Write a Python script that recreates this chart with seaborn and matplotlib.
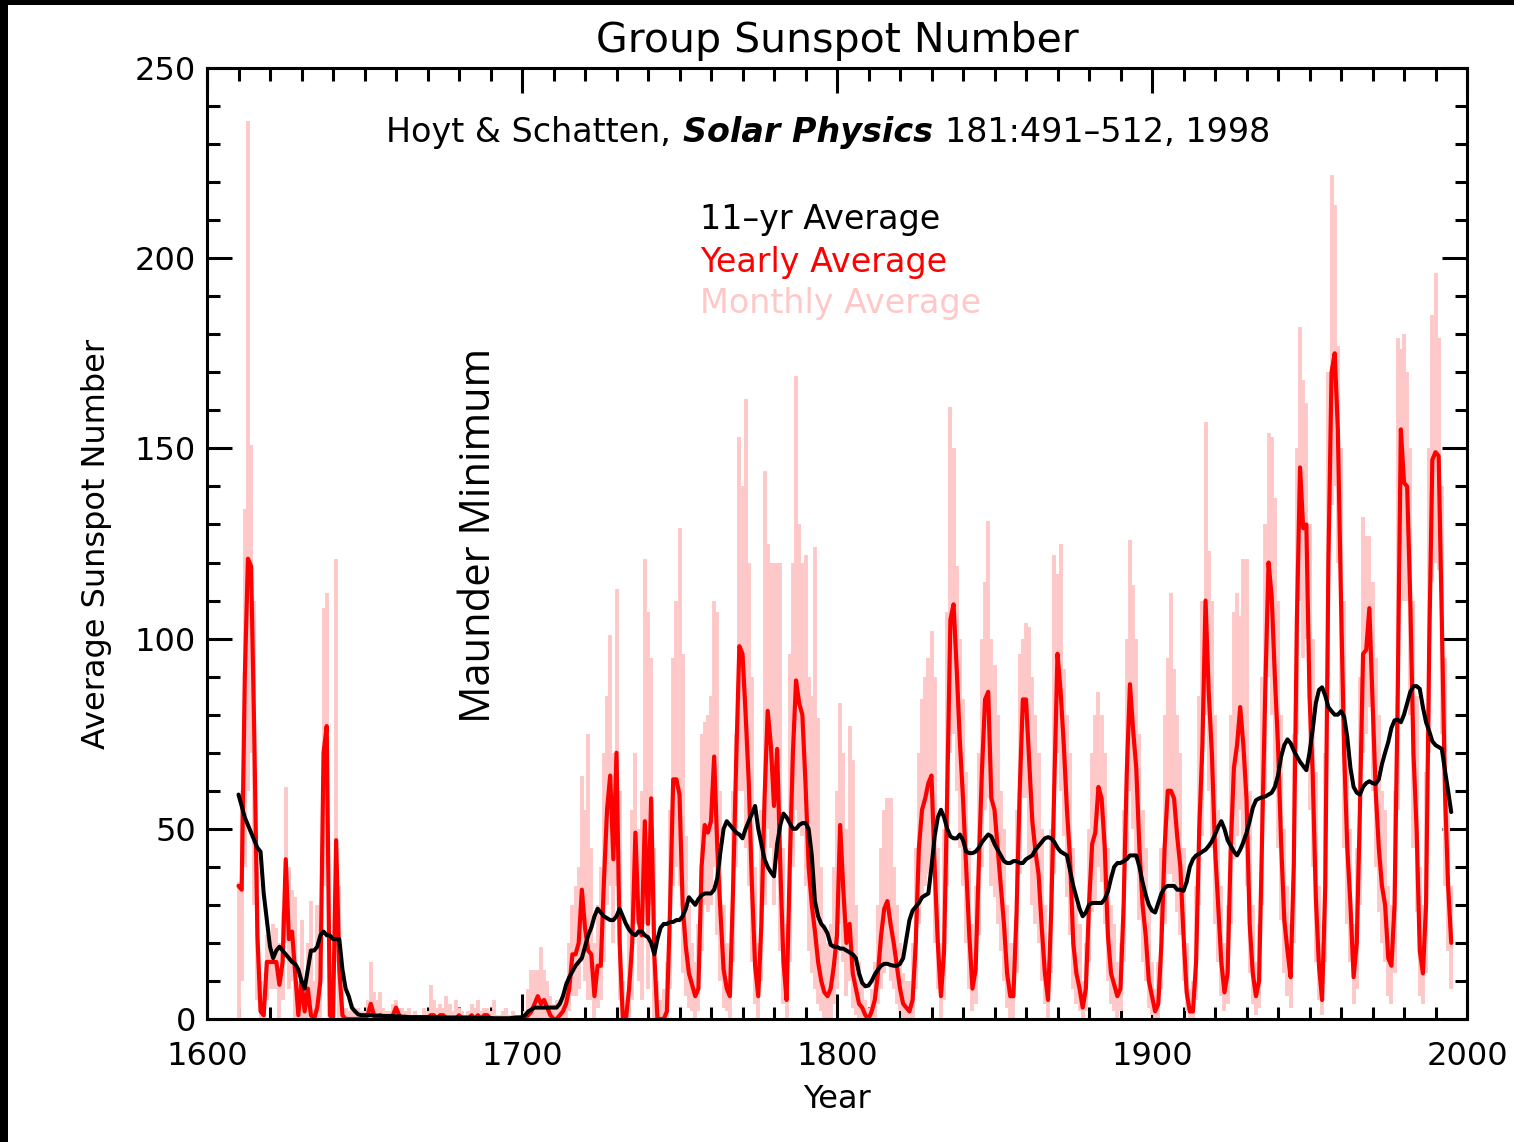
import numpy as np
import pandas as pd
import matplotlib
matplotlib.use("Agg")
import matplotlib.pyplot as plt
from matplotlib.patches import Rectangle
from matplotlib.ticker import MultipleLocator
from matplotlib.offsetbox import TextArea, HPacker, AnnotationBbox
import seaborn as sns

# ---------------------------------------------------------------------------
# Group sunspot number (Hoyt & Schatten 1998), one value per year from 1610
# ---------------------------------------------------------------------------
YEAR_START = 1610

yearly_avg = [
    35, 34, 90, 121, 119, 75, 22, 2, 1, 15,          # 1610s
    15, 15, 15, 9, 15, 42, 21, 23, 12, 1,            # 1620s
    10, 2, 8, 1, 0, 3, 10, 70, 77, 1,                # 1630s
    0, 47, 13, 1, 0, 0, 0, 0, 0, 0,                  # 1640s
    0, 1, 4, 1, 0, 1, 0, 0, 0, 1,                    # 1650s
    3, 1, 0, 0, 0, 0, 0, 0, 0, 0,                    # 1660s
    0, 1, 1, 0, 1, 1, 0, 0, 0, 0,                    # 1670s
    1, 0, 0, 0, 1, 0, 1, 0, 1, 1,                    # 1680s
    0, 0, 0, 0, 0, 0, 0, 0, 0, 0,                    # 1690s
    0, 0, 1, 2, 4, 6, 4, 5, 3, 1,                    # 1700s
    0, 0, 1, 2, 4, 8, 17, 17, 20, 34,                # 1710s
    24, 18, 17, 6, 14, 14, 36, 55, 64, 42,           # 1720s
    70, 20, 0, 0, 8, 20, 49, 26, 22, 52,             # 1730s
    25, 58, 17, 0, 0, 0, 2, 29, 63, 63,              # 1740s
    59, 30, 19, 12, 9, 6, 8, 40, 51, 49,             # 1750s
    52, 69, 45, 28, 13, 8, 6, 34, 68, 98,            # 1760s
    96, 80, 62, 35, 14, 6, 25, 58, 81, 72,           # 1770s
    56, 71, 40, 15, 5, 40, 70, 89, 83, 80,           # 1780s
    62, 40, 30, 23, 15, 10, 7, 6, 8, 14,             # 1790s
    22, 51, 34, 20, 25, 12, 8, 4, 3, 1,              # 1800s
    0, 2, 5, 12, 22, 29, 31, 25, 20, 14,             # 1810s
    8, 4, 3, 2, 5, 20, 45, 55, 58, 62,               # 1820s
    64, 40, 20, 6, 18, 60, 105, 109, 92, 73,         # 1830s
    58, 40, 22, 8, 13, 40, 65, 84, 86, 58,           # 1840s
    55, 45, 35, 25, 12, 6, 6, 28, 60, 84,            # 1850s
    84, 68, 52, 44, 38, 24, 12, 5, 28, 62,           # 1860s
    96, 86, 72, 55, 42, 20, 12, 8, 3, 8,             # 1870s
    30, 46, 49, 61, 58, 45, 22, 12, 9, 6,            # 1880s
    8, 30, 65, 88, 76, 66, 45, 30, 22, 10,           # 1890s
    6, 2, 4, 20, 45, 60, 60, 58, 48, 40,             # 1900s
    22, 7, 2, 2, 15, 50, 72, 110, 86, 70,            # 1910s
    45, 30, 15, 7, 12, 45, 66, 72, 82, 72,           # 1920s
    58, 25, 12, 6, 10, 50, 88, 120, 111, 90,         # 1930s
    72, 46, 26, 18, 11, 40, 105, 145, 129, 130,      # 1940s
    85, 65, 32, 14, 5, 35, 120, 170, 175, 155,       # 1950s
    110, 70, 45, 30, 11, 20, 55, 96, 97, 108,        # 1960s
    84, 60, 45, 35, 30, 16, 14, 30, 85, 155,         # 1970s
    141, 140, 110, 70, 50, 18, 12, 30, 98, 147,      # 1980s
    149, 148, 105, 60, 35, 20,                       # 1990s
]

eleven_yr_avg = [
    59, 56, 53, 51, 49, 47, 45, 44, 33, 26,
    19, 16, 18, 19, 18, 17, 16, 15, 14.5, 13,
    10, 8, 13, 18, 18, 19, 22, 23, 22, 22,
    21, 21, 21, 13, 8, 6, 3, 2, 1.2, 1,
    1, 1, 1, 0.9, 0.9, 0.9, 0.8, 0.8, 0.8, 0.8,
    0.7, 0.7, 0.6, 0.6, 0.5, 0.5, 0.5, 0.5, 0.5, 0.5,
    0.5, 0.5, 0.5, 0.4, 0.4, 0.4, 0.4, 0.4, 0.4, 0.4,
    0.4, 0.4, 0.4, 0.4, 0.4, 0.3, 0.3, 0.3, 0.3, 0.3,
    0.3, 0.2, 0.2, 0.2, 0.2, 0.2, 0.2, 0.3, 0.4, 0.4,
    0.5, 1, 2, 2.5, 3, 3, 3, 3, 3, 3,
    3, 3, 4, 6, 9, 11, 12.5, 14, 15, 16,
    19, 22, 24, 27, 29, 28, 27, 26.5, 26, 26,
    27, 29, 27, 25, 23.5, 22.5, 22, 23, 23, 22,
    21.5, 20, 17, 21, 24, 25, 25, 25.5, 25.5, 26,
    26, 27, 29, 32, 31, 30, 31.5, 32.5, 33, 33,
    33, 34, 37, 44, 50, 52, 51, 50, 49, 48.5,
    47.5, 50, 52, 54, 56, 50, 46, 42, 40, 38.6,
    37.5, 46, 51, 54, 53, 51.5, 50, 50, 51, 51.5,
    51.5, 50, 43, 31, 27, 25, 24, 22.5, 19.5, 19,
    19, 18.5, 18.5, 18, 17.5, 17, 16, 12, 9.5, 8.6,
    8.8, 10, 11.7, 13, 14, 14.5, 14.5, 14.2, 14, 14,
    14.5, 16, 21, 26, 28.5, 29.5, 30.5, 32, 32.5, 33,
    40, 48, 53, 55, 53, 50, 48, 47.5, 47.5, 48.5,
    47, 44, 43.6, 43.6, 44, 45, 46.5, 47.5, 48.5, 48,
    46, 44.5, 43, 41.5, 41, 41, 41.5, 41.5, 41, 41,
    42, 42.5, 43, 44.5, 45.5, 46.5, 47.5, 47.8, 47.5, 46.5,
    45, 44, 43.5, 43, 39, 35, 32, 29, 27, 28,
    30, 30.5, 30.5, 30.5, 30.5, 31.5, 33.5, 37, 40, 41,
    41, 41.5, 42, 43, 43, 43, 40, 36, 32.6, 30,
    28.5, 28, 30.5, 33, 34.5, 35, 35, 35, 34, 34,
    33.7, 36, 40, 42, 43, 43.4, 44, 44.5, 45.5, 46.7,
    48.5, 50.5, 52, 50, 47, 45.5, 44, 43, 44.5, 46.5,
    48.9, 52, 55.5, 57.5, 58, 58.3, 58.5, 59, 59.5, 61,
    64, 69, 72, 73.5, 72.5, 70.6, 69, 67.6, 66.5, 65.4,
    70, 76, 83, 86.5, 87.2, 85, 82, 80.9, 80, 80,
    80.9, 79.5, 74, 66, 61, 59.5, 59, 61, 62, 62.5,
    62, 61.8, 63, 67, 70, 72.8, 76.5, 78.5, 78.7, 78,
    80, 83, 86, 87.5, 87.5, 86.8, 82, 78, 75.7, 73,
    72, 71.5, 71, 65.4, 60, 54.4,
]

# highest and lowest monthly mean within each year
monthly_high = [
    36, 60, 134, 236, 151, 110, 40, 10, 5, 22,
    20, 25, 24, 20, 28, 61, 40, 34, 32, 10,
    26, 10, 20, 31, 10, 30, 25, 108, 112, 10,
    5, 121, 35, 8, 3, 2, 4, 2, 3, 2,
    2, 5, 15, 7, 5, 7, 3, 2, 2, 4,
    5, 3, 3, 2, 3, 1, 2, 1, 1, 3,
    2, 9, 5, 3, 4, 3, 6, 4, 2, 5,
    3, 2, 1, 2, 4, 3, 5, 2, 3, 3,
    2, 5, 1, 1, 2, 3, 1, 2, 1, 1,
    1, 2, 8, 13, 13, 13, 19, 13, 10, 6,
    4, 5, 4, 6, 10, 20, 30, 35, 40, 64,
    55, 75, 45, 20, 30, 40, 70, 85, 101, 70,
    113, 60, 10, 5, 25, 55, 70, 50, 60, 121,
    107, 95, 45, 10, 5, 8, 15, 55, 95, 110,
    129, 96, 48, 30, 20, 15, 25, 75, 78, 80,
    85, 110, 107, 60, 30, 20, 15, 60, 75, 153,
    140, 163, 120, 90, 40, 20, 55, 144, 125, 120,
    120, 120, 120, 45, 25, 96, 120, 169, 130, 120,
    122, 90, 85, 124, 79, 40, 25, 20, 25, 40,
    60, 83, 70, 50, 77, 68, 30, 15, 10, 5,
    3, 8, 15, 30, 45, 55, 58, 58, 40, 30,
    20, 12, 10, 10, 20, 45, 70, 84, 90, 95,
    102, 90, 45, 20, 50, 107, 161, 150, 119, 100,
    84, 65, 45, 25, 35, 70, 100, 115, 131, 100,
    93, 80, 60, 50, 30, 20, 20, 55, 96, 100,
    104, 103, 90, 80, 70, 50, 30, 15, 50, 122,
    117, 125, 92, 80, 70, 45, 30, 25, 10, 20,
    50, 70, 80, 86, 80, 70, 45, 30, 25, 15,
    20, 55, 100, 126, 114, 100, 75, 55, 45, 30,
    15, 8, 15, 45, 80, 95, 112, 92, 80, 70,
    45, 20, 8, 10, 35, 85, 110, 157, 123, 110,
    80, 55, 35, 20, 30, 80, 107, 112, 106, 121,
    121, 60, 30, 15, 25, 90, 130, 154, 153, 137,
    110, 80, 50, 35, 25, 75, 150, 182, 168, 162,
    130, 100, 65, 35, 20, 70, 170, 222, 214, 177,
    150, 110, 75, 50, 25, 45, 90, 132, 127, 127,
    115, 95, 80, 60, 55, 35, 30, 60, 179, 176,
    180, 170, 150, 110, 85, 40, 30, 65, 150, 185,
    196, 179, 140, 95, 60, 35,
]

monthly_low = [
    0, 10, 40, 60, 70, 30, 5, 0, 0, 5,
    8, 8, 8, 0, 5, 20, 8, 10, 0, 0,
    0, 0, 0, 0, 0, 0, 0, 35, 40, 0,
    0, 15, 0, 0, 0, 0, 0, 0, 0, 0,
    0, 0, 0, 0, 0, 0, 0, 0, 0, 0,
    0, 0, 0, 0, 0, 0, 0, 0, 0, 0,
    0, 0, 0, 0, 0, 0, 0, 0, 0, 0,
    0, 0, 0, 0, 0, 0, 0, 0, 0, 0,
    0, 0, 0, 0, 0, 0, 0, 0, 0, 0,
    0, 0, 0, 0, 0, 0, 0, 0, 0, 0,
    0, 0, 0, 0, 0, 2, 6, 6, 8, 15,
    10, 5, 5, 0, 3, 5, 15, 30, 35, 20,
    35, 5, 0, 0, 0, 5, 25, 10, 5, 25,
    8, 30, 0, 0, 0, 0, 0, 8, 35, 40,
    35, 12, 6, 3, 2, 0, 2, 18, 30, 28,
    30, 40, 22, 10, 3, 2, 0, 15, 40, 60,
    60, 45, 35, 15, 4, 0, 10, 30, 50, 45,
    30, 42, 18, 4, 0, 15, 40, 55, 50, 48,
    35, 18, 12, 8, 4, 2, 0, 0, 0, 4,
    8, 25, 15, 6, 10, 3, 1, 0, 0, 0,
    0, 0, 0, 4, 8, 12, 14, 10, 8, 4,
    2, 0, 0, 0, 0, 8, 25, 32, 35, 38,
    38, 20, 8, 0, 5, 35, 70, 75, 60, 45,
    35, 20, 8, 2, 4, 22, 40, 55, 58, 35,
    32, 25, 18, 10, 3, 0, 0, 12, 38, 58,
    58, 42, 30, 25, 20, 10, 4, 0, 12, 38,
    70, 60, 48, 32, 22, 8, 4, 2, 0, 2,
    15, 28, 30, 40, 36, 25, 10, 4, 2, 0,
    2, 15, 42, 60, 50, 42, 26, 15, 10, 3,
    1, 0, 0, 8, 25, 38, 38, 36, 28, 22,
    10, 2, 0, 0, 5, 30, 48, 80, 60, 45,
    25, 15, 6, 2, 4, 25, 42, 48, 55, 45,
    35, 12, 4, 1, 3, 30, 60, 90, 80, 60,
    45, 26, 12, 6, 3, 20, 75, 110, 95, 100,
    55, 40, 15, 5, 1, 15, 90, 135, 140, 120,
    80, 45, 25, 15, 4, 8, 30, 70, 75, 82,
    60, 40, 28, 20, 15, 6, 4, 12, 55, 125,
    110, 110, 80, 45, 28, 6, 4, 12, 70, 115,
    120, 118, 75, 35, 18, 8,
]

years = np.arange(YEAR_START, YEAR_START + len(yearly_avg))

RED = "#ff0000"
PINK = "#ffc8c8"

sns.set_style("ticks")
plt.rcParams["font.family"] = ["DejaVu Sans"]
plt.rcParams["text.color"] = "black"
plt.rcParams["axes.labelcolor"] = "black"

fig = plt.figure(figsize=(15.14, 11.42), dpi=100, facecolor="black")
# white page inside the dark frame, kept behind the axes
fig.patches.append(Rectangle((8 / 1514, 0), 1, 1137 / 1142, transform=fig.transFigure,
                             facecolor="white", edgecolor="none", zorder=-10))

ax = fig.add_axes([207 / 1514, 1 - 1019 / 1142, 1260 / 1514, 951 / 1142])
ax.set_zorder(1)
ax.set_facecolor("white")

df = pd.DataFrame({
    "Year": years,
    "Yearly": yearly_avg,
    "Eleven": eleven_yr_avg,
    "MonthHigh": monthly_high,
    "MonthLow": monthly_low,
})

# monthly spread, yearly mean and 11-year running mean
ax.vlines(df["Year"], df["MonthLow"], df["MonthHigh"], colors=PINK, lw=2.8, zorder=1)
sns.lineplot(data=df, x="Year", y="Yearly", color=RED, lw=3.0, ax=ax, zorder=2, estimator=None)
sns.lineplot(data=df, x="Year", y="Eleven", color="black", lw=2.9, ax=ax, zorder=3, estimator=None)

ax.set_xlim(1600, 2000)
ax.set_ylim(0, 250)

ax.xaxis.set_major_locator(MultipleLocator(100))
ax.xaxis.set_minor_locator(MultipleLocator(10))
ax.yaxis.set_major_locator(MultipleLocator(50))
ax.yaxis.set_minor_locator(MultipleLocator(10))
ax.tick_params(which="both", direction="in", top=True, right=True, width=2.2,
               color="black", labelcolor="black")
ax.tick_params(which="major", length=18, labelsize=23)
ax.tick_params(which="minor", length=9)
ax.tick_params(axis="x", which="major", pad=16)
ax.tick_params(axis="y", which="major", pad=8)
for sp in ax.spines.values():
    sp.set_linewidth(2.2)
    sp.set_color("black")
    sp.set_zorder(5)

ax.set_xlabel("Year", fontsize=23, color="black")
ax.set_ylabel("Average Sunspot Number", fontsize=23, color="black")
ax.xaxis.set_label_coords(0.5, -0.068)
ax.yaxis.set_label_coords(-0.0754, 0.5)
ax.set_title("Group Sunspot Number", fontsize=29.5, y=1.0168, pad=0, color="black")

# citation line with the journal name in bold italic
cite = HPacker(children=[
    TextArea("Hoyt & Schatten,", textprops=dict(fontsize=24, color="black")),
    TextArea("Solar Physics", textprops=dict(fontsize=24, color="black",
                                             weight="bold", style="italic")),
    TextArea("181:491–512, 1998", textprops=dict(fontsize=24, color="black")),
], align="baseline", pad=0, sep=9)
ax.add_artist(AnnotationBbox(cite, (0.493, 0.9327), xycoords="axes fraction",
                             box_alignment=(0.5, 0.5), frameon=False, zorder=6))

ax.text(0.391, 0.841, "11–yr Average", transform=ax.transAxes, fontsize=24,
        color="black", ha="left", va="center")
ax.text(0.391, 0.796, "Yearly Average", transform=ax.transAxes, fontsize=24,
        color=RED, ha="left", va="center")
ax.text(0.391, 0.752, "Monthly Average", transform=ax.transAxes, fontsize=24,
        color=PINK, ha="left", va="center")

ax.text(1686.3, 127.2, "Maunder Minimum", rotation=90, ha="center", va="center",
        fontsize=30, family=["Open Sans", "DejaVu Sans"], color="black")

fig.savefig("out.png", dpi=100, facecolor=fig.get_facecolor())
